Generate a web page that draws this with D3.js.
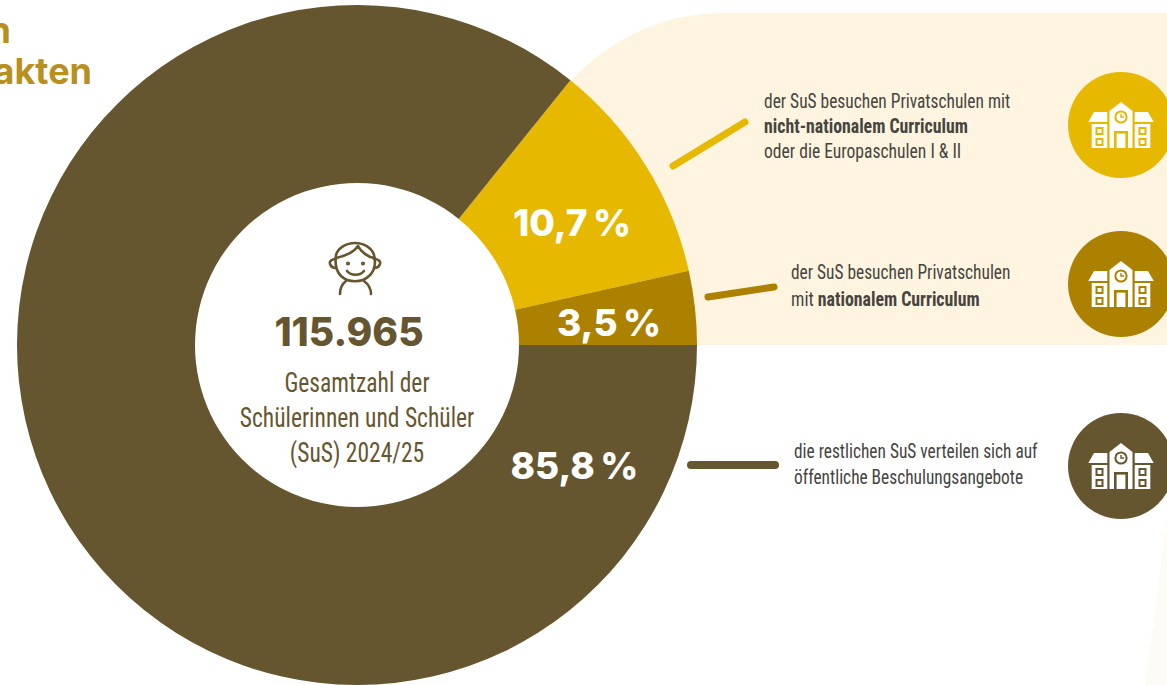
<!DOCTYPE html>
<html><head><meta charset="utf-8">
<script src="https://cdn.jsdelivr.net/npm/d3@7/dist/d3.min.js"></script>
<style>html,body{margin:0;padding:0;background:#fff;overflow:hidden}svg{display:block}</style>
</head><body><svg id="c" width="1167" height="685"></svg>
<script>
const categories = ["nicht-national", "national", "oeffentlich"];
const values = [10.7, 3.5, 85.8];
const valueLabels = ["10,7\u2009%", "3,5\u2009%", "85,8\u2009%"];
const colors = ["#E6B800", "#AD8100", "#665630"];
const titleLines = ["n", "akten"];
const centerNumber = "115.965";
const centerLines = ["Gesamtzahl der", "Schülerinnen und Schüler", "(SuS) 2024/25"];

const svg = d3.select("#c");
const cx = 357, cy = 345, R = 340, r0 = 162;
const total = d3.sum(values);
const sweepTop = (values[0] + values[1]) / total * 2 * Math.PI;
const start = Math.PI / 2 - sweepTop;
const NARROW = "'Liberation Sans Narrow','Roboto Condensed','Liberation Sans',sans-serif";
const HEAVY = "Inter,'Open Sans',sans-serif";

// cream panel
svg.append("path").attr("fill", "#FFF4DF")
  .attr("d", "M570,81 C610,40 660,13 725,13 L1167,13 L1167,345 L520,345 Z");
// faint bottom-right panel
svg.append("path").attr("fill", "#FDFBF6")
  .attr("d", "M1167,520 L1145,685 L1167,685 Z");

// title
svg.selectAll("text.title").data(titleLines).join("text").attr("class", "title")
  .attr("x", (d, i) => i ? 92 : 11).attr("y", (d, i) => 43 + i * 41)
  .attr("text-anchor", "end").attr("fill", "#B8901E")
  .style("font", "700 36px " + HEAVY).text(d => d);

// donut
const pie = d3.pie().sort(null).startAngle(start).endAngle(start + 2 * Math.PI)(values);
const arc = d3.arc().innerRadius(r0).outerRadius(R);
const g = svg.append("g").attr("transform", `translate(${cx},${cy})`);
g.selectAll("path").data(pie).join("path").attr("d", arc).attr("fill", (d, i) => colors[i]);

// percent labels
const labelPos = [[572, 236], [609, 336], [574.5, 479]];
svg.selectAll("text.pct").data(valueLabels).join("text").attr("class", "pct")
  .attr("x", (d, i) => labelPos[i][0]).attr("y", (d, i) => labelPos[i][1])
  .attr("text-anchor", "middle").attr("fill", "#fff")
  .style("font", "800 37px " + HEAVY).text(d => d);

// connectors
const conn = [[673, 166, 745, 122, 7], [708, 297, 774, 287, 7], [691, 465, 775, 465, 8]];
svg.selectAll("line.conn").data(conn).join("line").attr("class", "conn")
  .attr("x1", d => d[0]).attr("y1", d => d[1]).attr("x2", d => d[2]).attr("y2", d => d[3])
  .attr("stroke", (d, i) => colors[i]).attr("stroke-width", d => d[4]).attr("stroke-linecap", "round");

// descriptions
const desc = [
  {x: 764, y: [108, 133, 158], k: [.83, .848, .838], t: [["der SuS besuchen Privatschulen mit", 0], ["nicht-nationalem Curriculum", 1], ["oder die Europaschulen I & II", 0]]},
  {x: 791, y: [279, 306], k: [.828, .848], t: [["der SuS besuchen Privatschulen", 0], ["mit ", 0, "nationalem Curriculum"]]},
  {x: 794, y: [458, 484], k: [.827, .827], t: [["die restlichen SuS verteilen sich auf", 0], ["öffentliche Beschulungsangebote", 0]]}
];
desc.forEach(b => b.t.forEach((l, i) => {
  const t = svg.append("text").attr("transform", `translate(${b.x},${b.y[i]}) scale(${b.k[i]},1)`)
    .attr("fill", "#46443F").style("font", "400 21px " + NARROW);
  t.append("tspan").style("font-weight", l[1] ? 700 : 400).text(l[0]);
  if (l[2]) t.append("tspan").style("font-weight", 700).text(l[2]);
}));

// school icons
function school(x, y, col) {
  const s = svg.append("g").attr("transform", `translate(${x},${y})`);
  s.append("circle").attr("r", 53).attr("fill", col);
  const w = "#fff";
  [-1, 1].forEach(k => {
    s.append("path").attr("fill", w).attr("d",
      `M${k*32.7},-3 L${k*13.7},-3 L${k*13.7},-13 L${k*27},-13 Z`);
    s.append("rect").attr("x", k < 0 ? -29.3 : 13.7).attr("y", -1).attr("width", 15.6).attr("height", 24).attr("fill", w);
    [3, 14].forEach(wy => s.append("rect").attr("x", k * 21.5 - 3).attr("y", wy)
      .attr("width", 6).attr("height", 6).attr("fill", w).attr("stroke", col).attr("stroke-width", 2));
  });
  s.append("path").attr("fill", w).attr("d", "M-11.5,23 L-11.5,-14 L0,-23 L11.5,-14 L11.5,23 Z");
  s.append("circle").attr("cy", -8).attr("r", 5.6).attr("fill", w).attr("stroke", col).attr("stroke-width", 2);
  s.append("path").attr("d", "M0,-11 L0,-8 L3,-8").attr("fill", "none").attr("stroke", col).attr("stroke-width", 1.4);
  s.append("rect").attr("x", -5.7).attr("y", 7.3).attr("width", 11.4).attr("height", 17).attr("fill", w)
    .attr("stroke", col).attr("stroke-width", 2.6);
  s.append("rect").attr("x", -12).attr("y", 23).attr("width", 24).attr("height", 3).attr("fill", col);
}
school(1121, 125, colors[0]);
school(1121, 284, colors[1]);
school(1121, 466, colors[2]);

// child icon
const ch = svg.append("g").attr("fill", "none").attr("stroke", colors[2]).attr("stroke-width", 2.6)
  .attr("stroke-linecap", "round").attr("stroke-linejoin", "round");
ch.append("path").attr("d", "M336,255 C338,248 346,243 355,243 C364,243 372,248 374,255 C376,262 375,271 369,276 C362,283 348,283 341,276 C336,271 335,262 336,255");
ch.append("path").attr("d", "M336,259 C331,259 329,262 330,264 C331,267 333,268 336,268");
ch.append("path").attr("d", "M374,259 C379,259 381,262 380,264 C379,267 377,268 374,268");
ch.append("path").attr("d", "M336,258 C345,256 354,252 358,246 C361,252 368,257 374,258");
ch.append("path").attr("d", "M340,294 C340,288 342,284 346,281");
ch.append("path").attr("d", "M371,294 C371,288 368,284 364,281");
ch.append("path").attr("d", "M347,271 C351,276 360,276 364,271");
ch.append("circle").attr("cx", 348).attr("cy", 263.5).attr("r", .8).attr("fill", colors[2]);
ch.append("circle").attr("cx", 363).attr("cy", 263.5).attr("r", .8).attr("fill", colors[2]);

// centre text
svg.append("text").attr("x", 349).attr("y", 346).attr("text-anchor", "middle").attr("fill", colors[2])
  .style("font", "800 39px " + HEAVY).text(centerNumber);
const centerScale = .84;
svg.selectAll("text.cl").data(centerLines).join("text").attr("class", "cl")
  .attr("transform", (d, i) => `translate(357,${392 + i * 35}) scale(${centerScale},1)`)
  .attr("text-anchor", "middle").attr("fill", colors[2])
  .style("font", "400 28px " + NARROW).text(d => d);
</script></body></html>
